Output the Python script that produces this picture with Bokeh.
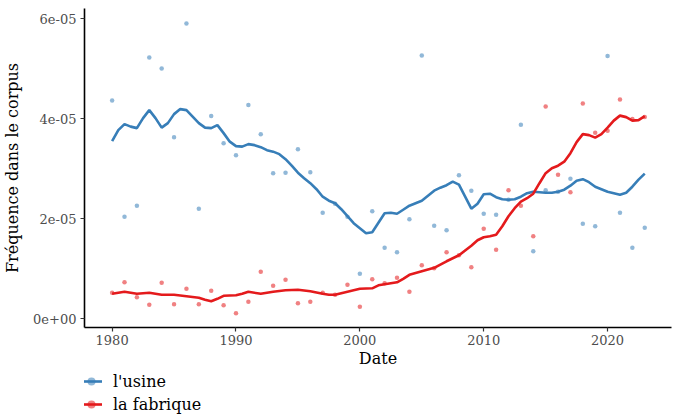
from bokeh.plotting import figure
from bokeh.layouts import column
from bokeh.models import Range1d, FixedTicker, CustomJSTickFormatter, Legend, LegendItem
from bokeh.embed import file_html
from bokeh.resources import INLINE

# ---- data (frequencies in units of 1e-6) ----
years = list(range(1980, 2024))
usine_pts = [43.6, 20.4, 22.6, 52.2, 50.0, 36.3, 59.0, 22.0, 40.5, 35.1,
             32.7, 42.7, 36.9, 29.1, 29.2, 33.9, 29.3, 21.2, 23.0, 20.4,
             9.0, 21.5, 14.2, 13.3, 19.9, 52.6, 18.6, 17.7, 28.7, 25.6,
             21.0, 20.8, 23.8, 38.8, 13.5, 25.7, 25.4, 28.0, 19.0, 18.5,
             52.5, 21.2, 14.2, 18.2]
fabrique_pts = [5.2, 7.3, 4.3, 2.8, 7.2, 2.9, 6.0, 2.9, 5.6, 2.7,
                1.1, 3.4, 9.4, 6.6, 7.8, 3.1, 3.4, 5.2, 4.8, 6.8,
                2.4, 7.9, 7.1, 8.2, 5.4, 10.7, 10.1, 13.3, 12.7, 10.3,
                18.0, 13.8, 25.7, 22.6, 16.5, 42.4, 28.8, 25.3, 43.0, 37.2,
                37.6, 43.8, 39.9, 40.3]

usine_smooth_x = [1980 + 0.5 * i for i in range(87)]
usine_smooth = [35.5, 37.7, 38.9, 38.4, 38.1, 40.1, 41.7, 40.1, 38.2, 39.1,
                40.9, 41.9, 41.7, 40.4, 39.1, 38.2, 38.1, 38.7, 37.1, 35.4,
                34.5, 34.4, 34.9, 34.7, 34.3, 33.7, 33.4, 32.9, 31.9, 30.6,
                29.2, 28.1, 27.1, 25.9, 24.4, 23.6, 23.1, 21.9, 20.5, 19.1,
                18.1, 17.1, 17.3, 19.2, 21.1, 21.2, 21.0, 21.8, 22.6, 23.1,
                23.6, 24.6, 25.6, 26.2, 26.7, 27.4, 26.8, 24.4, 22.0, 23.0,
                24.9, 25.0, 24.3, 23.9, 23.8, 23.9, 24.4, 25.1, 25.4, 25.3,
                25.2, 25.2, 25.4, 25.8, 26.6, 27.6, 27.9, 27.3, 26.4, 25.9,
                25.4, 25.1, 24.8, 25.2, 26.4, 27.8, 29.0]

fabrique_smooth_x = [1980, 1981, 1982, 1983, 1984, 1985, 1986, 1987, 1987.5, 1988,
                     1988.5, 1989, 1990, 1990.5, 1991, 1992, 1993, 1994, 1995, 1996,
                     1997, 1997.5, 1998, 1999, 2000, 2001, 2001.5, 2002, 2003, 2003.5,
                     2004, 2005, 2006, 2007, 2008, 2009, 2009.5, 2010, 2010.5, 2011,
                     2011.5, 2012, 2012.5, 2013, 2013.5, 2014, 2014.5, 2015, 2015.5, 2016,
                     2016.5, 2017, 2017.5, 2018, 2018.5, 2019, 2019.5, 2020, 2020.5, 2021,
                     2021.5, 2022, 2022.5, 2023]
fabrique_smooth = [5.0, 5.4, 5.0, 5.2, 4.8, 4.8, 4.5, 4.2, 3.8, 3.5,
                   4.0, 4.6, 4.7, 5.0, 5.4, 5.0, 5.4, 5.7, 5.8, 5.5,
                   5.0, 4.8, 4.8, 5.4, 6.0, 6.1, 6.7, 6.9, 7.3, 8.0,
                   8.8, 9.5, 10.2, 11.5, 12.7, 14.6, 15.7, 16.3, 16.5, 16.8,
                   18.5, 20.5, 22.1, 23.4, 24.1, 25.0, 27.1, 29.1, 30.1, 30.6,
                   31.4, 33.1, 35.3, 36.9, 36.7, 36.2, 36.9, 38.2, 39.6, 40.6,
                   40.3, 39.6, 39.7, 40.5]

series_names = ["l'usine", "la fabrique"]
colors = ["#377EB8", "#E41A1C"]
x_ticks = [1980, 1990, 2000, 2010, 2020]
y_ticks = [0, 2e-05, 4e-05, 6e-05]

SCALE = 1e-6
FONT = "DejaVu Serif"
PT_SIZE = 4.5
PT_ALPHA = 0.55
LW = 2.6

p = figure(width=680, height=370, output_backend="svg", toolbar_location=None,
           x_range=Range1d(1977.77, 2025.16), y_range=Range1d(-1.73e-6, 62.0e-6),
           min_border_left=83, min_border_right=9, min_border_top=8, min_border_bottom=42)
p.outline_line_color = None
p.xgrid.visible = False
p.ygrid.visible = False
p.background_fill_color = "white"
p.border_fill_color = "white"

p.scatter(years, [v * SCALE for v in usine_pts], size=PT_SIZE, color=colors[0],
          alpha=PT_ALPHA, line_color=None)
p.scatter(years, [v * SCALE for v in fabrique_pts], size=PT_SIZE, color=colors[1],
          alpha=PT_ALPHA, line_color=None)
p.line(usine_smooth_x, [v * SCALE for v in usine_smooth], line_color=colors[0], line_width=LW)
p.line(fabrique_smooth_x, [v * SCALE for v in fabrique_smooth], line_color=colors[1], line_width=LW)

for ax in (p.xaxis[0], p.yaxis[0]):
    ax.axis_line_color = "black"
    ax.axis_line_width = 1.6
    ax.major_tick_line_color = "#333333"
    ax.major_tick_line_width = 1.2
    ax.major_tick_out = 4
    ax.major_tick_in = 0
    ax.minor_tick_line_color = None
    ax.major_label_text_font = FONT
    ax.major_label_text_font_size = "13px"
    ax.major_label_text_color = "#4D4D4D"
    ax.axis_label_text_font = FONT
    ax.axis_label_text_font_size = "16px"
    ax.axis_label_text_font_style = "normal"
    ax.axis_label_text_color = "black"

p.xaxis.axis_label = "Date"
p.xaxis.ticker = FixedTicker(ticks=x_ticks)
p.xaxis.major_label_standoff = 3
p.xaxis.axis_label_standoff = 1
p.yaxis.axis_label = "Fréquence dans le corpus"
p.yaxis.ticker = FixedTicker(ticks=y_ticks)
p.yaxis.major_label_standoff = 4
p.yaxis.axis_label_standoff = 8
p.yaxis.formatter = CustomJSTickFormatter(code="""
var s = tick.toExponential(0);
var parts = s.split('e');
var e = parseInt(parts[1]);
var a = Math.abs(e);
return parts[0] + 'e' + (e < 0 ? '-' : '+') + (a < 10 ? '0' + a : '' + a);
""")

# ---- legend panel below the plot (series drawn out of view, only the key shows) ----
q = figure(width=680, height=50, output_backend="svg", toolbar_location=None,
           x_axis_location=None, y_axis_location=None,
           x_range=Range1d(0, 1), y_range=Range1d(0, 1),
           min_border_left=83, min_border_right=9, min_border_top=0, min_border_bottom=0)
q.outline_line_color = None
q.xgrid.visible = False
q.ygrid.visible = False
q.border_fill_color = "white"

items = []
for name, col, sx, sy, py in zip(series_names, colors,
                                 [usine_smooth_x, fabrique_smooth_x],
                                 [usine_smooth, fabrique_smooth],
                                 [usine_pts, fabrique_pts]):
    r_line = q.line(sx, sy, line_color=col, line_width=LW)
    r_pt = q.scatter(years, py, size=PT_SIZE, color=col, alpha=PT_ALPHA, line_color=None)
    items.append(LegendItem(label=name, renderers=[r_line, r_pt]))

legend = Legend(items=items, location=(-4, 6), orientation="vertical")
legend.label_text_font = FONT
legend.label_text_font_size = "16px"
legend.label_text_color = "black"
legend.border_line_color = None
legend.background_fill_alpha = 0
legend.padding = 0
legend.margin = 0
legend.spacing = 3
legend.glyph_width = 22
legend.glyph_height = 20
legend.label_height = 20
legend.label_standoff = 11
q.add_layout(legend, "center")

layout = column(p, q, spacing=0)
open("out.html", "w").write(file_html(layout, INLINE))
